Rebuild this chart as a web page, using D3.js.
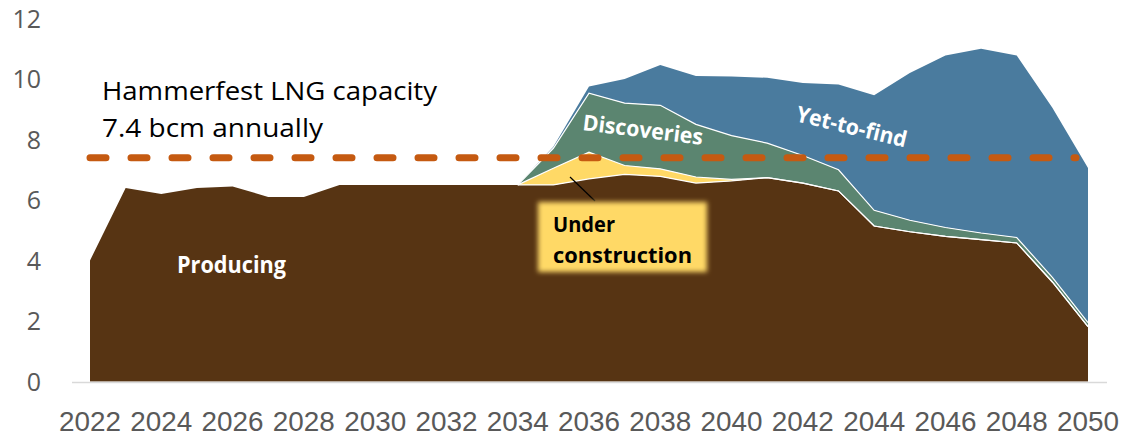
<!DOCTYPE html>
<html><head><meta charset="utf-8">
<script src="https://cdn.jsdelivr.net/npm/d3@7"></script>
<style>body{margin:0;background:#fff}svg{display:block}</style>
</head><body><svg id="c" width="1122" height="437"></svg>
<script>
const years = d3.range(2022, 2051);
const xTickLabels = ["2022","2024","2026","2028","2030","2032","2034","2036","2038","2040","2042","2044","2046","2048","2050"];
const yTicks = [0,2,4,6,8,10,12];
const seriesNames = ["Producing","Under construction","Discoveries","Yet-to-find"];
const producing = [4.0,6.4,6.2,6.4,6.45,6.1,6.1,6.5,6.5,6.5,6.5,6.5,6.5,6.5,6.7,6.85,6.78,6.56,6.63,6.74,6.56,6.3,5.14,4.95,4.8,4.69,4.58,3.29,1.81];
const underConstruction = [0,0,0,0,0,0,0,0,0,0,0,0,0,0.55,0.88,0.29,0.25,0.2,0.05,0,0,0,0,0,0,0,0,0,0];
const discoveries = [0,0,0,0,0,0,0,0,0,0,0,0,0,0.66,1.95,2.06,2.1,1.74,1.45,1.14,0.91,0.7,0.52,0.38,0.29,0.22,0.18,0.15,0.14];
const yetToFind = [0,0,0,0,0,0,0,0,0,0,0,0,0,0.05,0.22,0.8,1.33,1.6,1.95,2.16,2.4,2.82,3.8,4.87,5.69,6.09,6.02,5.61,5.11];
const capacity = 7.4;
const colors = ["#573413","#ffd966","#5b8570","#4a7b9e"];

const svg = d3.select("#c");
const x = d3.scaleLinear().domain([2022, 2050]).range([90, 1088]);
const y = d3.scaleLinear().domain([0, 12]).range([381.5, 18.5]);

const table = years.map((yr, i) => ({year: yr, "Producing": producing[i], "Under construction": underConstruction[i], "Discoveries": discoveries[i], "Yet-to-find": yetToFind[i]}));
const stack = d3.stack().keys(seriesNames)(table);

const defs = svg.append("defs");
const f = defs.append("filter").attr("id","soft").attr("x","-10%").attr("y","-20%").attr("width","120%").attr("height","140%");
f.append("feGaussianBlur").attr("stdDeviation", 2.5);

const area = d3.area().x(d => x(d.data.year)).y0(d => y(d[0])).y1(d => y(d[1]));
const topLine = d3.line().x(d => x(d.data.year)).y(d => y(d[1]));

svg.append("g").selectAll("path").data(stack).join("path")
  .attr("d", area).attr("fill", (d, i) => colors[i]);
svg.append("g").selectAll("path").data(stack.slice(0,3)).join("path")
  .attr("d", d => topLine(d.filter(p => p.data.year >= 2034)))
  .attr("fill","none").attr("stroke","#fff").attr("stroke-width",1.2);

// axis line
svg.append("line").attr("x1",72).attr("x2",1107).attr("y1",382.5).attr("y2",382.5)
  .attr("stroke","#d9d9d9").attr("stroke-width",1.5);

// y labels
svg.append("g").selectAll("text").data(yTicks).join("text")
  .attr("x", 41).attr("y", d => y(d)).attr("dy","0.36em")
  .attr("text-anchor","end").attr("font-family","Open Sans").attr("font-size",25)
  .attr("fill","#595959").text(d => d);

// x labels
svg.append("g").selectAll("text").data(xTickLabels).join("text")
  .attr("x", d => x(+d) - 31).attr("y", 430.5)
  .attr("font-family","Liberation Sans").attr("font-size",28)
  .attr("textLength",62).attr("lengthAdjust","spacingAndGlyphs")
  .attr("fill","#595959").text(d => d);

// capacity dashed line
svg.append("line").attr("x1", x(2022)).attr("x2", x(2050) - 12)
  .attr("y1", y(capacity)).attr("y2", y(capacity))
  .attr("stroke","#c55a11").attr("stroke-width",7).attr("stroke-linecap","round")
  .attr("stroke-dasharray","16,25");

// capacity label
svg.append("text").attr("x",102).attr("y",100).attr("font-family","Open Sans").attr("font-size",25)
  .attr("textLength",335).attr("lengthAdjust","spacingAndGlyphs").attr("fill","#000").text("Hammerfest LNG capacity");
svg.append("text").attr("x",102).attr("y",137).attr("font-family","Open Sans").attr("font-size",25)
  .attr("textLength",221).attr("lengthAdjust","spacingAndGlyphs").attr("fill","#000").text("7.4 bcm annually");

// series labels
svg.append("text").attr("x",177).attr("y",273).attr("font-family","Open Sans").attr("font-weight","bold")
  .attr("font-size",23).attr("textLength",109).attr("lengthAdjust","spacingAndGlyphs").attr("fill","#fff").text("Producing");
svg.append("text").attr("transform","translate(582,130) rotate(7)").attr("font-family","Open Sans").attr("font-weight","bold")
  .attr("font-size",22).attr("textLength",121).attr("lengthAdjust","spacingAndGlyphs").attr("fill","#fff").text("Discoveries");
svg.append("text").attr("transform","translate(795,121) rotate(13.5)").attr("font-family","Open Sans").attr("font-weight","bold")
  .attr("font-size",22).attr("textLength",113).attr("lengthAdjust","spacingAndGlyphs").attr("fill","#fff").text("Yet-to-find");

// under construction callout
svg.append("line").attr("x1",570).attr("y1",177).attr("x2",595).attr("y2",201).attr("stroke","#000").attr("stroke-width",1.2);
svg.append("rect").attr("x",538).attr("y",202).attr("width",169).attr("height",70).attr("fill","#ffd966").attr("filter","url(#soft)");
svg.append("text").attr("x",553).attr("y",232).attr("font-family","Open Sans").attr("font-weight","bold")
  .attr("font-size",21).attr("textLength",62).attr("lengthAdjust","spacingAndGlyphs").attr("fill","#000").text("Under");
svg.append("text").attr("x",553).attr("y",263).attr("font-family","Open Sans").attr("font-weight","bold")
  .attr("font-size",21).attr("textLength",139).attr("lengthAdjust","spacingAndGlyphs").attr("fill","#000").text("construction");
</script></body></html>
